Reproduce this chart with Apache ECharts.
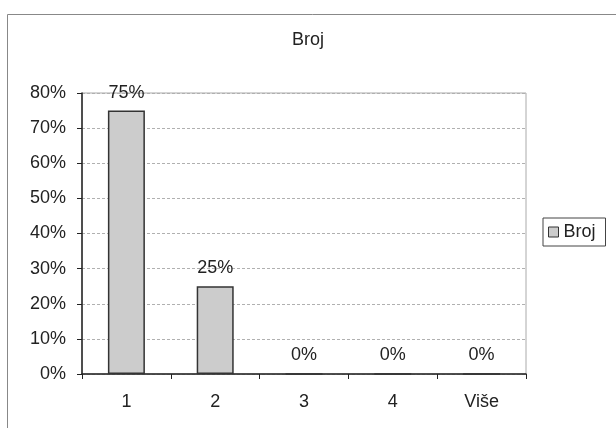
<!DOCTYPE html>
<html>
<head>
<meta charset="utf-8">
<script src="https://cdn.jsdelivr.net/npm/echarts@6/dist/echarts.min.js"></script>
<style>html,body{margin:0;padding:0;background:#fff}#c{width:616px;height:428px}</style>
</head>
<body>
<div id="c"></div>
<script>
const categories = ['1', '2', '3', '4', 'Više'];
const values = [0.75, 0.25, 0, 0, 0];
const seriesName = 'Broj';
const titleText = 'Broj';

const chart = echarts.init(document.getElementById('c'));
const font = 'Liberation Sans, Arial, sans-serif';
const pct = v => Math.round(v * 100) + '%';
chart.setOption({
  animation: false,
  backgroundColor: '#fff',
  textStyle: { fontFamily: font },
  graphic: [{
    type: 'rect', left: 5, top: 12, silent: true, z: -10,
    shape: { width: 640, height: 440 },
    style: { fill: 'none', stroke: '#888', lineWidth: 1 }
  }],
  title: {
    text: titleText, left: 'center', top: 26,
    textStyle: { fontFamily: font, fontSize: 18, fontWeight: 'normal', color: '#222' }
  },
  legend: {
    data: [seriesName], left: 543, top: 218,
    orient: 'vertical', icon: 'rect', itemWidth: 10, itemHeight: 10, itemGap: 4,
    borderColor: '#444', borderWidth: 1, padding: [5, 10, 5, 5],
    textStyle: { fontFamily: font, fontSize: 18, color: '#222' },
    itemStyle: { color: '#cccccc', borderColor: '#333', borderWidth: 1 }
  },
  grid: { left: 82, right: 90, top: 93, bottom: 54, show: true, borderColor: '#aaa', borderWidth: 1 },
  xAxis: {
    type: 'category', data: categories,
    axisLine: { lineStyle: { color: '#222', width: 1.5 } },
    axisTick: { show: true, length: 5, lineStyle: { color: '#222' } },
    axisLabel: { fontFamily: font, fontSize: 18, color: '#222', margin: 19 }
  },
  yAxis: {
    type: 'value', min: 0, max: 0.8, interval: 0.1,
    axisLine: { show: true, lineStyle: { color: '#222', width: 1.5 } },
    axisTick: { show: true, length: 5, lineStyle: { color: '#222' } },
    axisLabel: { fontFamily: font, fontSize: 18, color: '#222', margin: 16, formatter: pct },
    splitLine: { show: true, lineStyle: { color: '#b0b0b0', type: [3, 2], width: 1 } }
  },
  series: [{
    name: seriesName, type: 'bar', data: values, barWidth: 37,
    itemStyle: { color: '#cccccc', borderColor: '#333', borderWidth: 1.5 },
    label: {
      show: true, position: 'top', distance: 9,
      fontFamily: font, fontSize: 18, color: '#222',
      formatter: p => pct(p.value)
    }
  }]
});
</script>
</body>
</html>
